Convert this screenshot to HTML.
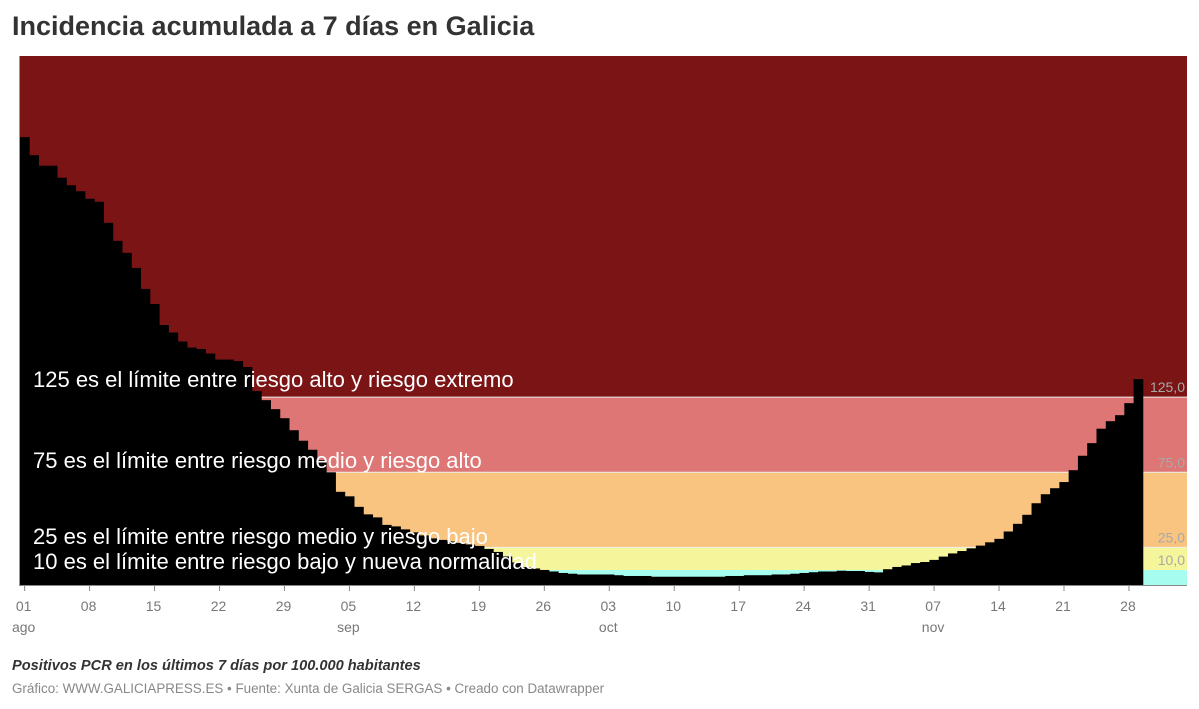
<!DOCTYPE html>
<html><head><meta charset="utf-8">
<style>
body{margin:0;background:#fff;font-family:"Liberation Sans",sans-serif;}
#wrap{position:relative;width:1199px;height:709px;overflow:hidden;}
h1{position:absolute;left:12px;top:11px;margin:0;font-size:27px;font-weight:bold;color:#333;}
.note{position:absolute;left:12px;top:658px;font-size:14.6px;font-style:italic;font-weight:bold;color:#333;}
.src{position:absolute;left:12px;top:681px;font-size:13.4px;color:#888;}
</style></head><body>
<div id="wrap">
<h1>Incidencia acumulada a 7 días en Galicia</h1>
<svg id="chart" width="1199" height="709" style="position:absolute;left:0;top:0"></svg>
<div class="note">Positivos PCR en los últimos 7 días por 100.000 habitantes</div>
<div class="src">Gráfico: WWW.GALICIAPRESS.ES • Fuente: Xunta de Galicia SERGAS • Creado con Datawrapper</div>
</div>
<script>
const values=[298,286,279,279,271,266,262,257,255,241,229,221,211,197,187,173,168,162,158,157,154,150,150,149,145,129,123,117,111,103,96,90,83,75,62,59,52,
47,45,40,39,37,35,33,31,30,29,28,27,26,24,22,19,15,12,11,10,9,8,7.5,7,7,7,7,6.5,6,6,6,5.5,5.5,5.5,5.5,5.5,5.5,5.5,5.5,6,6,6.5,6.5,6.5,7,7,7.5,8,8.5,9,9,9.5,
9.3,9.3,8.7,8.4,10.5,12,13,14.6,15.3,16.7,18.9,21,22.6,24.4,26.2,28.4,30.7,35.6,40.7,46.7,54.4,60.4,64.4,68.5,76.4,86,94.4,104,109,113,121,137];
const bandLimits=[0,10,25,75,125,352];
const bandColors=["#a6fcef","#f5f59b","#f9c47f","#dd7675","#7b1415"];
const bandLabels=["10,0","25,0","75,0","125,0"];
const tickDays=[0,7,14,21,28,35,42,49,56,63,70,77,84,91,98,105,112,119];
const tickLabels=["01","08","15","22","29","05","12","19","26","03","10","17","24","31","07","14","21","28"];
const monthDays=[0,35,63,98];
const monthLabels=["ago","sep","oct","nov"];
const annotations=[[125,"125 es el límite entre riesgo alto y riesgo extremo",386],[75,"75 es el límite entre riesgo medio y riesgo alto",467],[25,"25 es el límite entre riesgo medio y riesgo bajo",543],[10,"10 es el límite entre riesgo bajo y nueva normalidad",568]];

const X0=20,X1=1187,Y0=585,YT=56,BW=9.28;
const yMax=352;
function y(v){return Y0-(v/yMax)*(Y0-YT);}
function x(i){return X0+i*BW;}
const svg=document.getElementById('chart');
const NS="http://www.w3.org/2000/svg";
function el(t,a){const e=document.createElementNS(NS,t);for(const k in a)e.setAttribute(k,a[k]);svg.appendChild(e);return e;}

for(let i=0;i<bandColors.length;i++){
 const r=el('rect',{x:X0,y:y(bandLimits[i+1]),width:X1-X0,height:y(bandLimits[i])-y(bandLimits[i+1]),fill:bandColors[i]});
 
 
}
for(let i=1;i<=3;i++){
 const l=el('line',{x1:X0,x2:X1,y1:y(bandLimits[i+1]),y2:y(bandLimits[i+1]),stroke:"#eee","stroke-width":1});
 
 
}
values.forEach((v,i)=>{
 const r=el('rect',{x:x(i),y:y(v),width:BW+0.4,height:Y0-y(v),fill:"#000"});
 
 
});
for(let i=0;i<bandLabels.length;i++){
 const t=el('text',{x:1185,y:y(bandLimits[i+1])-5,"text-anchor":"end","font-size":14,fill:"#a8a8a8","font-family":"Liberation Sans"});
 t.textContent=bandLabels[i];
 
 
}
annotations.forEach(a=>{
 const t=el('text',{x:33,y:a[2]+1,"font-size":22,fill:"#fff","font-family":"Liberation Sans"});
 t.textContent=a[1];
 
 
});
const ax=el('line',{x1:X0-1,x2:X1,y1:Y0+0.5,y2:Y0+0.5,stroke:"#888","stroke-width":1});


const ay=el('line',{x1:X0-0.5,x2:X0-0.5,y1:YT,y2:Y0,stroke:"#999","stroke-width":1});


tickDays.forEach((d,i)=>{
 const cx=x(d)+BW/2;
 const tk=el('line',{x1:cx,x2:cx,y1:Y0,y2:Y0+6,stroke:"#888"});
 
 
 const t=el('text',{x:cx-1,y:611,"text-anchor":"middle","font-size":14,fill:"#777","font-family":"Liberation Sans"});
 t.textContent=tickLabels[i];
 
 
});
monthDays.forEach((d,i)=>{
 const cx=x(d)+BW/2;
 const t=el('text',{x:cx-1,y:632,"text-anchor":"middle","font-size":14,fill:"#777","font-family":"Liberation Sans"});
 t.textContent=monthLabels[i];
 
 
});
</script>
</body></html>
